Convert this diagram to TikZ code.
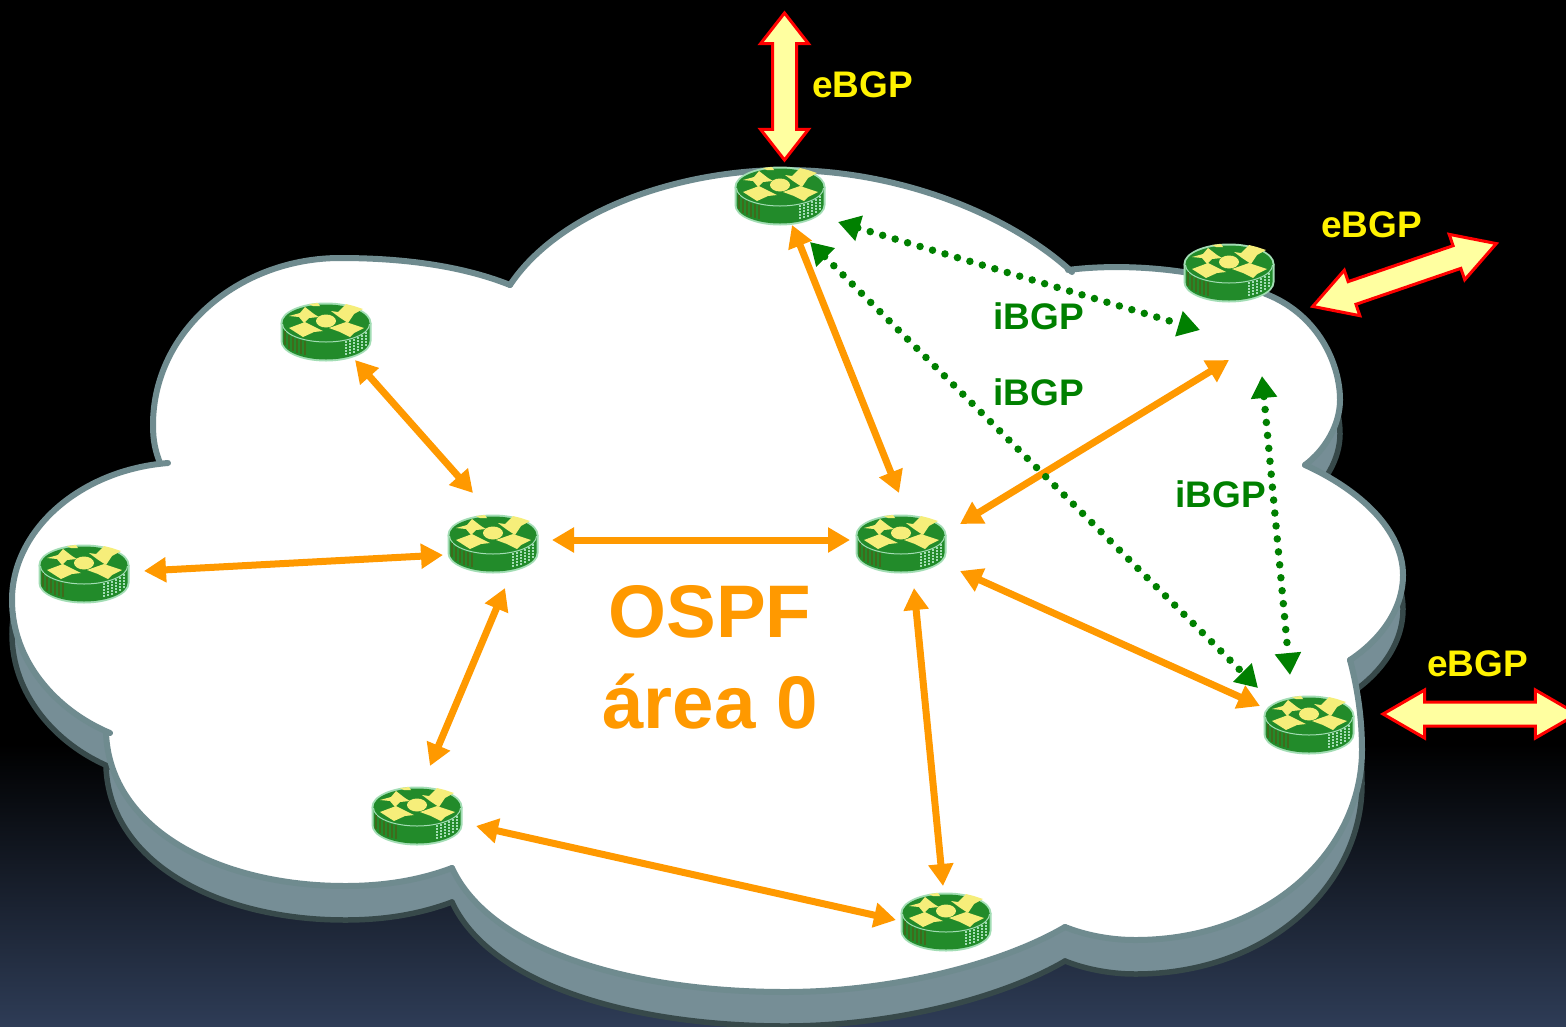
\documentclass[tikz,border=0pt]{standalone}
\usepackage{fontspec}
\setmainfont{Liberation Sans}
\usetikzlibrary{arrows.meta,shapes.arrows}
\definecolor{bgend}{HTML}{2E3C56}
\definecolor{cloudside}{HTML}{768E96}
\definecolor{cloudedge}{HTML}{6F8B8F}
\definecolor{clouddark}{HTML}{37494A}
\definecolor{ospforange}{HTML}{FF9900}
\definecolor{ibgpgreen}{HTML}{008000}
\definecolor{paleyellow}{HTML}{FFFFA0}
\definecolor{rgreen}{HTML}{228B2A}
\definecolor{rpale}{HTML}{A2DDB4}
\definecolor{rdark}{HTML}{3F6B1C}
\definecolor{ryellow}{HTML}{F6EE7A}
\def\lobeA{(510,285) .. controls (560,210) and (680,170) .. (785,170) .. controls (900,170) and (1010,215) .. (1072,272)}
\def\lobeB{(1068,270) .. controls (1130,262) and (1215,270) .. (1275,298) .. controls (1320,320) and (1340,365) .. (1340,400) .. controls (1340,425) and (1325,450) .. (1305,465)}
\def\lobeC{(1305,465) .. controls (1360,490) and (1403,530) .. (1403,575) .. controls (1403,610) and (1380,640) .. (1350,660)}
\def\lobeD{(1350,660) .. controls (1358,690) and (1362,720) .. (1362,750) .. controls (1362,850) and (1270,940) .. (1135,940) .. controls (1110,940) and (1085,935) .. (1065,927)}
\def\lobeE{(1065,927) .. controls (1000,965) and (890,992) .. (785,992) .. controls (630,992) and (490,950) .. (452,868)}
\def\lobeF{(452,868) .. controls (420,880) and (385,886) .. (345,886) .. controls (220,886) and (110,830) .. (106,733)}
\def\lobeG{(110,733) .. controls (55,710) and (12,660) .. (12,600) .. controls (12,530) and (80,470) .. (168,463)}
\def\lobeH{(160,463) .. controls (155,450) and (153,440) .. (153,425) .. controls (153,330) and (240,258) .. (340,258) .. controls (400,258) and (460,265) .. (510,285)}
\def\cloudfill{\lobeA -- \lobeB -- \lobeC -- \lobeD -- \lobeE -- \lobeF -- \lobeG -- \lobeH -- cycle}
\def\shadowfill{\lobeB -- \lobeC -- \lobeD -- \lobeE -- \lobeF -- \lobeG -- cycle}
\tikzset{
  routerspot/.style={inner sep=0pt,minimum width=90pt,minimum height=58pt},
  routeric/.pic={
    \fill[rpale] (-45.5,-9) -- (-45.5,9) arc[start angle=180,end angle=0,x radius=45.5,y radius=20.5] -- (45.5,-9) -- cycle;
    \fill[rpale] (0,-9) ellipse[x radius=45.5,y radius=20.5];
    \fill[rgreen] (-43.5,-9) -- (-43.5,9) arc[start angle=180,end angle=0,x radius=43.5,y radius=18.5] -- (43.5,-9) -- cycle;
    \fill[rgreen] (0,-9) ellipse[x radius=43.5,y radius=18.5];
    \draw[rpale,line width=1pt] (-43.5,-8) arc[start angle=180,end angle=0,x radius=43.5,y radius=18];
    \foreach \hx/\hb in {-41/6,-37/10,-33/12,-29/14,-25/15,-21/16}
      \draw[rdark,line width=1.8pt] (\hx,\hb-7) -- (\hx,\hb+7);
    \foreach \hx/\hb in {20/16,24/15,28/14,32/12,36/10,40/7}
      \draw[rpale,line width=1.1pt,dash pattern=on 2pt off 1pt] (\hx,\hb-7) -- (\hx,\hb+7);
    \fill[ryellow] (0,-11) ellipse[x radius=10,y radius=6.5];
    \fill[ryellow] (-37,-16) -- (-26,-19) -- (-21,-25) -- (-12,-18) -- (-7,-15) -- (-17,-14) -- (-22,-9) -- (-27,-15) -- cycle;
    \fill[ryellow] (37,-23) -- (28,-18) -- (22,-9) -- (13,-15) -- (5,-21) -- (12,-20) -- (20,-28) -- (28,-26) -- cycle;
    \fill[ryellow] (-37,-4) -- (-21,-10) -- (-3,-1) -- (-12,0) -- (-23,5) -- cycle;
    \fill[ryellow] (3,-4) -- (20,-10) -- (38,-4) -- (28,1) -- (24,5) -- (14,0) -- cycle;
    \fill[ryellow] (-17,-28) -- (-8,-29) -- (-6,-26) -- (-13,-26) -- cycle;
  },
  ospfarrow/.style={draw=ospforange,line width=7pt,{Triangle[length=22pt,width=24pt]}-{Triangle[length=22pt,width=24pt]}},
  ibgparrow/.style={draw=ibgpgreen,line width=7.5pt,line cap=round,dash pattern=on 0pt off 13pt,{Triangle[length=22pt,width=25pt]}-{Triangle[length=22pt,width=25pt]}},
  ebgparrow/.style={double arrow,draw=red,fill=paleyellow,line width=3pt,inner xsep=0pt,inner ysep=10.5pt,outer sep=0pt,
    minimum height=194pt,double arrow head extend=12pt,double arrow tip angle=60},
  ebgplabel/.style={text=yellow,font=\bfseries\fontsize{37}{40}\selectfont,inner sep=0pt},
  ibgplabel/.style={text=ibgpgreen,font=\bfseries\fontsize{37}{40}\selectfont,inner sep=0pt},
  ospflabel/.style={text=ospforange,font=\bfseries\fontsize{74.5}{80}\selectfont,inner sep=0pt},
}
\begin{document}
\begin{tikzpicture}[x=1pt,y=-1pt]
\clip (0,0) rectangle (1566,1026);
\useasboundingbox (0,0) rectangle (1566,1026);
% background
\fill[black] (0,0) rectangle (1566,745);
\shade[top color=black,bottom color=bgend] (0,744) rectangle (1566,1026);
% cloud thickness
\begin{scope}[yshift=-34pt]
  \fill[cloudside] \shadowfill;
  \foreach \lb in {\lobeB,\lobeC,\lobeD,\lobeE,\lobeF,\lobeG}
    \draw[clouddark,line width=5.5pt,line cap=round] \lb;
\end{scope}
% cloud top
\fill[white] \cloudfill;
\foreach \lb in {\lobeA,\lobeB,\lobeC,\lobeD,\lobeE,\lobeF,\lobeG,\lobeH}
  \draw[cloudedge,line width=6pt,line cap=round] \lb;
% routers
\foreach \nm/\px/\py in {rTop/780/196,rUpRight/1229/273,rUpLeft/326/332,rMidLeft/493/544,rFarLeft/84/574,rMid/901/544,rLowRight/1309/725,rLowLeft/417/816,rBottom/946/922}{
  \node[routerspot] (\nm) at (\px,\py) {};
  \pic at (\nm) {routeric};
}
% connector ends, placed around the routers
\foreach \nm/\rt/\dx/\dy in {
  a/rUpLeft/29/28, b/rMidLeft/-20/-51,
  c/rFarLeft/60/-3, d/rMidLeft/-50/11,
  e/rMidLeft/59/-4, f/rMid/-51/-4,
  g/rMidLeft/12/44, h/rLowLeft/13/-50,
  i/rTop/12/29, j/rMid/-2/-51,
  k/rUpRight/0/87, l/rMid/59/-20,
  m/rMid/59/27, n/rLowRight/-49/-19,
  o/rMid/13/44, p/rBottom/-3/-36,
  q/rLowLeft/59/10, r/rBottom/-50/-2,
  s/rTop/58/26, t/rUpRight/-29/57,
  u/rTop/30/46, v/rLowRight/-51/-37,
  w/rUpRight/33/103, x/rLowRight/-19/-50}
  \coordinate (\nm) at ([xshift=\dx pt,yshift=-\dy pt]\rt.center);
% OSPF links
\draw[ospfarrow] (a) -- (b);
\draw[ospfarrow] (c) -- (d);
\draw[ospfarrow] (e) -- (f);
\draw[ospfarrow] (g) -- (h);
\draw[ospfarrow] (i) -- (j);
\draw[ospfarrow] (k) -- (l);
\draw[ospfarrow] (m) -- (n);
\draw[ospfarrow] (o) -- (p);
\draw[ospfarrow] (q) -- (r);
% iBGP sessions
\draw[ibgparrow] (s) -- (t);
\draw[ibgparrow] (u) -- (v);
\draw[ibgparrow] (w) -- (x);
% eBGP arrows
\node[ebgparrow,minimum height=147pt,double arrow tip angle=76,rotate=90] (eTop) at (784.5,86.5) {};
\node[ebgparrow,rotate=18.9] (eRight) at (1404.5,275) {};
\node[ebgparrow] (eLow) at (1480,714) {};
% labels
\node[ebgplabel] (lTop) at (862.5,85) {eBGP};
\node[ebgplabel] (lRight) at (1371.5,225) {eBGP};
\node[ebgplabel] (lLow) at (1477.5,664) {eBGP};
\node[ibgplabel] (i1) at (1038.5,316) {iBGP};
\node[ibgplabel] (i2) at (1038.5,392) {iBGP};
\node[ibgplabel] (i3) at (1220.5,494) {iBGP};
\node[ospflabel] (o1) at (710,612) {OSPF};
\node[ospflabel] (o2) at (710,702) {área 0};
\end{tikzpicture}
\end{document}
